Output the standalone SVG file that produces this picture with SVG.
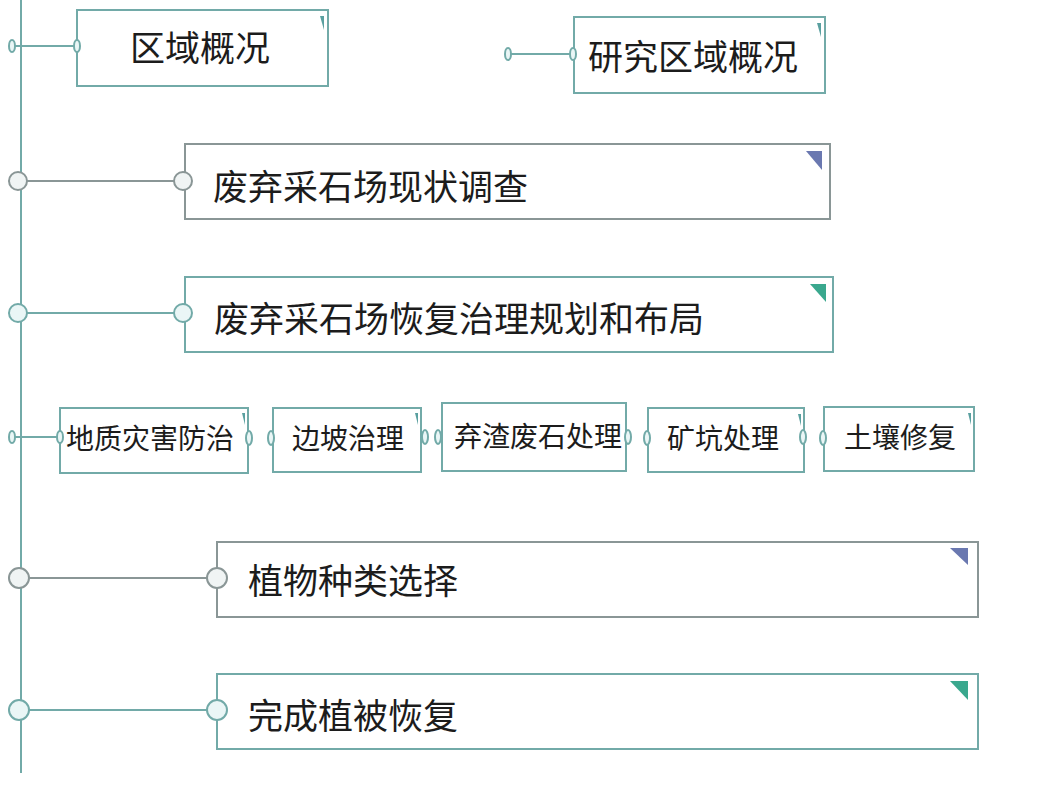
<svg xmlns="http://www.w3.org/2000/svg" width="1043" height="790" viewBox="0 0 1043 790">
<style>
.t{font-family:"Noto Sans CJK SC","Noto Sans",sans-serif;fill:#1c1c1c}
.big{font-size:35px}
.sm{font-size:28px}
.bt{fill:#ffffff;stroke:#72aaa8;stroke-width:2}
.bg{fill:#ffffff;stroke:#8a9696;stroke-width:2}
.lt{stroke:#72aaa8;stroke-width:2;fill:none}
.lg{stroke:#8a9696;stroke-width:2;fill:none}
.ct{fill:#eaf6f6;stroke:#72aaa8;stroke-width:2}
.cg{fill:#f0f4f4;stroke:#8a9696;stroke-width:2}
.mt{fill:#3aa88e}
.mb{fill:#6a78b0}
.ms{fill:#5aa0a0}
</style>
<rect width="1043" height="790" fill="#ffffff"/>
<g id="connectors">
<line class="lt" x1="21" y1="0" x2="21" y2="773"/>
<line class="lt" x1="12" y1="46" x2="77" y2="46"/>
<line class="lt" x1="508" y1="54" x2="573" y2="54"/>
<line class="lg" x1="18" y1="181" x2="183" y2="181"/>
<line class="lt" x1="18" y1="313" x2="183" y2="313"/>
<line class="lt" x1="12" y1="437" x2="60" y2="437"/>
<line class="lg" x1="19" y1="578" x2="217" y2="578"/>
<line class="lt" x1="19" y1="710" x2="217" y2="710"/>
</g>
<g id="n1">
<rect class="bt" x="77" y="10" width="251" height="76"/>
<polygon class="ms" points="320,16 324,16 324,30"/>
<ellipse class="ct" cx="12" cy="46" rx="3" ry="6"/>
<ellipse class="ct" cx="77" cy="46" rx="3" ry="6"/>
<text class="t big" x="130" y="61">区域概况</text>
</g>
<g id="n2">
<rect class="bt" x="574" y="17" width="251" height="76"/>
<polygon class="ms" points="817,23 821,23 821,37"/>
<ellipse class="ct" cx="508" cy="54" rx="3" ry="6"/>
<ellipse class="ct" cx="573" cy="54" rx="3" ry="6"/>
<text class="t big" x="588" y="70">研究区域概况</text>
</g>
<g id="n3">
<rect class="bg" x="185" y="144" width="645" height="75"/>
<polygon class="mb" points="806,151 822,151 822,170"/>
<circle class="cg" cx="18" cy="181" r="9"/>
<circle class="cg" cx="183" cy="181" r="9"/>
<text class="t big" x="213" y="200">废弃采石场现状调查</text>
</g>
<g id="n4">
<rect class="bt" x="185" y="277" width="648" height="75"/>
<polygon class="mt" points="810,284 826,284 826,302"/>
<circle class="ct" cx="18" cy="313" r="9"/>
<circle class="ct" cx="183" cy="313" r="9"/>
<text class="t big" x="214" y="332">废弃采石场恢复治理规划和布局</text>
</g>
<g id="n5a">
<rect class="bt" x="60" y="408" width="188" height="65"/>
<polygon class="ms" points="242,413 245,413 245,425"/>
<ellipse class="ct" cx="12" cy="437" rx="3" ry="6"/>
<ellipse class="ct" cx="60" cy="437" rx="3" ry="6"/>
<ellipse class="ct" cx="249" cy="438" rx="3" ry="7"/>
<text class="t sm" x="66" y="449">地质灾害防治</text>
</g>
<g id="n5b">
<rect class="bt" x="273" y="408" width="148" height="64"/>
<polygon class="ms" points="415,413 418,413 418,425"/>
<ellipse class="ct" cx="271" cy="438" rx="3" ry="7"/>
<ellipse class="ct" cx="425" cy="437" rx="3" ry="7"/>
<text class="t sm" x="292" y="449">边坡治理</text>
</g>
<g id="n5c">
<rect class="bt" x="442" y="403" width="184" height="68"/>
<ellipse class="ct" cx="438" cy="437" rx="3" ry="7"/>
<ellipse class="ct" cx="628" cy="437" rx="3" ry="7"/>
<text class="t sm" x="454" y="447">弃渣废石处理</text>
</g>
<g id="n5d">
<rect class="bt" x="648" y="408" width="156" height="64"/>
<polygon class="ms" points="798,414 801,414 801,426"/>
<ellipse class="ct" cx="647" cy="438" rx="3" ry="7"/>
<ellipse class="ct" cx="803" cy="437" rx="3" ry="7"/>
<text class="t sm" x="667" y="449">矿坑处理</text>
</g>
<g id="n5e">
<rect class="bt" x="824" y="407" width="150" height="64"/>
<polygon class="ms" points="968,413 971,413 971,425"/>
<ellipse class="ct" cx="823" cy="438" rx="3" ry="7"/>
<text class="t sm" x="844" y="448">土壤修复</text>
</g>
<g id="n6">
<rect class="bg" x="217" y="542" width="761" height="75"/>
<polygon class="mb" points="950,548 968,548 968,565"/>
<circle class="cg" cx="19" cy="578" r="10"/>
<circle class="cg" cx="217" cy="578" r="10"/>
<text class="t big" x="248" y="594">植物种类选择</text>
</g>
<g id="n7">
<rect class="bt" x="217" y="674" width="761" height="75"/>
<polygon class="mt" points="950,681 968,681 968,700"/>
<circle class="ct" cx="19" cy="710" r="10"/>
<circle class="ct" cx="217" cy="710" r="10"/>
<text class="t big" x="248" y="729">完成植被恢复</text>
</g>
</svg>
